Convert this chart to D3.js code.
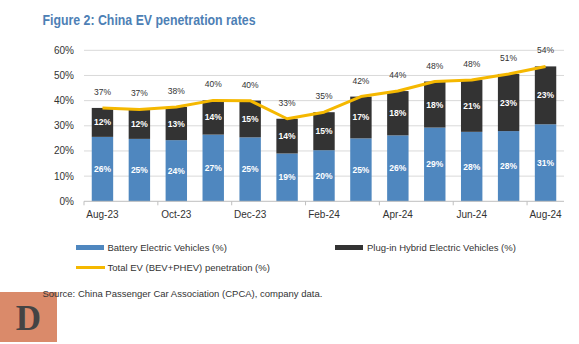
<!DOCTYPE html>
<html>
<head>
<meta charset="utf-8">
<script src="https://cdn.jsdelivr.net/npm/d3@7"></script>
<style>
  body { margin: 0; background: #fff; }
  svg { display: block; font-family: "Liberation Sans", Arial, sans-serif; }
</style>
</head>
<body>
<svg id="chart" width="579" height="344"></svg>
<script>
// data (% of new car sales)
var months = ['Aug-23', 'Sep-23', 'Oct-23', 'Nov-23', 'Dec-23', 'Jan-24', 'Feb-24',
              'Mar-24', 'Apr-24', 'May-24', 'Jun-24', 'Jul-24', 'Aug-24'];
var bev = [25.6, 24.8, 24.3, 26.5, 25.4, 19.0, 20.3, 25.0, 26.2, 29.3, 27.6, 27.9, 30.6];
var phev = [11.5, 11.7, 13.2, 13.6, 14.6, 13.8, 15.1, 16.6, 17.6, 18.3, 20.6, 22.7, 23.0];
var total = [37.1, 36.5, 37.5, 40.1, 40.0, 32.8, 35.4, 41.6, 43.8, 47.6, 48.2, 50.6, 53.6];
var yTicks = [0, 10, 20, 30, 40, 50, 60];

var colBev = '#4f87bf',
    colPhev = '#333333',
    colTotal = '#f5b800';

var svg = d3.select('#chart');

var plot = {left: 84, right: 564, top: 50.3, bottom: 201.3};

var x = d3.scaleBand()
    .domain(months)
    .range([plot.left, plot.right])
    .paddingInner(0.42)
    .paddingOuter(0.21);

var y = d3.scaleLinear()
    .domain([0, 60])
    .range([plot.bottom, plot.top]);

// title
svg.append('text')
    .attr('x', 42.5)
    .attr('y', 24.5)
    .attr('font-family', '"Liberation Sans Narrow", "Liberation Sans", Arial, sans-serif')
    .attr('font-weight', 'bold')
    .attr('font-size', 14)
    .attr('fill', '#4d80b5')
    .attr('textLength', 213)
    .attr('lengthAdjust', 'spacingAndGlyphs')
    .text('Figure 2: China EV penetration rates');

// gridlines
svg.append('g').selectAll('line')
    .data(yTicks.filter(function(d) { return d > 0; }))
    .enter().append('line')
    .attr('x1', plot.left).attr('x2', plot.right)
    .attr('y1', function(d) { return y(d); })
    .attr('y2', function(d) { return y(d); })
    .attr('stroke', '#d9d9d9')
    .attr('stroke-width', 1);

// y labels
svg.append('g').selectAll('text')
    .data(yTicks)
    .enter().append('text')
    .attr('x', 74)
    .attr('y', function(d) { return y(d) + 3.5; })
    .attr('text-anchor', 'end')
    .attr('font-size', 10)
    .attr('fill', '#333')
    .text(function(d) { return d + '%'; });

// stacked bars
var bars = svg.append('g');
bars.selectAll('rect.bev')
    .data(months)
    .enter().append('rect')
    .attr('class', 'bev')
    .attr('x', function(d) { return x(d); })
    .attr('width', x.bandwidth())
    .attr('y', function(d, i) { return y(bev[i]); })
    .attr('height', function(d, i) { return y(0) - y(bev[i]); })
    .attr('fill', colBev);

bars.selectAll('rect.phev')
    .data(months)
    .enter().append('rect')
    .attr('class', 'phev')
    .attr('x', function(d) { return x(d); })
    .attr('width', x.bandwidth())
    .attr('y', function(d, i) { return y(bev[i] + phev[i]); })
    .attr('height', function(d, i) { return y(bev[i]) - y(bev[i] + phev[i]); })
    .attr('fill', colPhev);

// segment labels
function segLabels(cls, getMid, vals) {
    bars.selectAll('text.' + cls)
        .data(months)
        .enter().append('text')
        .attr('class', cls)
        .attr('x', function(d) { return x(d) + x.bandwidth() / 2; })
        .attr('y', function(d, i) { return getMid(i) + 3; })
        .attr('text-anchor', 'middle')
        .attr('font-size', 8.5)
        .attr('font-weight', 'bold')
        .attr('fill', '#fff')
        .text(function(d, i) { return Math.round(vals[i]) + '%'; });
}
segLabels('lb', function(i) { return (y(0) + y(bev[i])) / 2; }, bev);
segLabels('lp', function(i) { return (y(bev[i]) + y(bev[i] + phev[i])) / 2; }, phev);

// x axis
svg.append('line')
    .attr('x1', plot.left).attr('x2', plot.right)
    .attr('y1', plot.bottom).attr('y2', plot.bottom)
    .attr('stroke', '#bfbfbf');

// tick marks sit on the category boundaries, every second month
var step = x.step();
function boundary(d) {
    return d === months[0] ? plot.left : x(d) - step * x.paddingInner() / 2;
}
svg.append('g').selectAll('line')
    .data(months.filter(function(d, i) { return i % 2 === 0; }))
    .enter().append('line')
    .attr('x1', boundary)
    .attr('x2', boundary)
    .attr('y1', plot.bottom).attr('y2', plot.bottom + 4)
    .attr('stroke', '#bfbfbf');

svg.append('g').selectAll('text')
    .data(months.filter(function(d, i) { return i % 2 === 0; }))
    .enter().append('text')
    .attr('x', function(d) { return x(d) + x.bandwidth() / 2; })
    .attr('y', 218)
    .attr('text-anchor', 'middle')
    .attr('font-size', 10)
    .attr('fill', '#333')
    .text(function(d) { return d; });

// total line
var line = d3.line()
    .x(function(d, i) { return x(months[i]) + x.bandwidth() / 2; })
    .y(function(d) { return y(d); });

svg.append('path')
    .datum(total)
    .attr('d', line)
    .attr('fill', 'none')
    .attr('stroke', colTotal)
    .attr('stroke-width', 3)
    .attr('stroke-linejoin', 'round');

svg.append('g').selectAll('text')
    .data(total)
    .enter().append('text')
    .attr('x', function(d, i) { return x(months[i]) + x.bandwidth() / 2; })
    .attr('y', function(d) { return y(d) - 13; })
    .attr('text-anchor', 'middle')
    .attr('font-size', 8.5)
    .attr('fill', '#333')
    .text(function(d) { return Math.round(d) + '%'; });

// legend
var legend = svg.append('g').attr('font-size', 9.5).attr('fill', '#333');
legend.append('rect').attr('x', 76).attr('y', 245).attr('width', 28).attr('height', 5).attr('fill', colBev);
legend.append('text').attr('x', 107.5).attr('y', 251).text('Battery Electric Vehicles (%)');
legend.append('rect').attr('x', 335).attr('y', 245).attr('width', 28).attr('height', 5).attr('fill', colPhev);
legend.append('text').attr('x', 367).attr('y', 251).text('Plug-in Hybrid Electric Vehicles (%)');
legend.append('line').attr('x1', 76).attr('x2', 105).attr('y1', 267.5).attr('y2', 267.5)
    .attr('stroke', colTotal).attr('stroke-width', 3);
legend.append('text').attr('x', 107.5).attr('y', 271).text('Total EV (BEV+PHEV) penetration (%)');

// logo box (drawn first so the source line sits on top of it)
svg.append('rect')
    .attr('x', 0).attr('y', 292)
    .attr('width', 57).attr('height', 50)
    .attr('fill', '#da8a6a');
svg.append('text')
    .attr('x', 28.5).attr('y', 330)
    .attr('text-anchor', 'middle')
    .attr('font-family', '"Liberation Serif", "DejaVu Serif", serif')
    .attr('font-weight', 'bold')
    .attr('font-size', 35)
    .attr('fill', '#444')
    .text('D');

// source
svg.append('text')
    .attr('x', 42.5)
    .attr('y', 297)
    .attr('font-size', 9.5)
    .attr('fill', '#333')
    .text('Source: China Passenger Car Association (CPCA), company data.');
</script>
</body>
</html>
